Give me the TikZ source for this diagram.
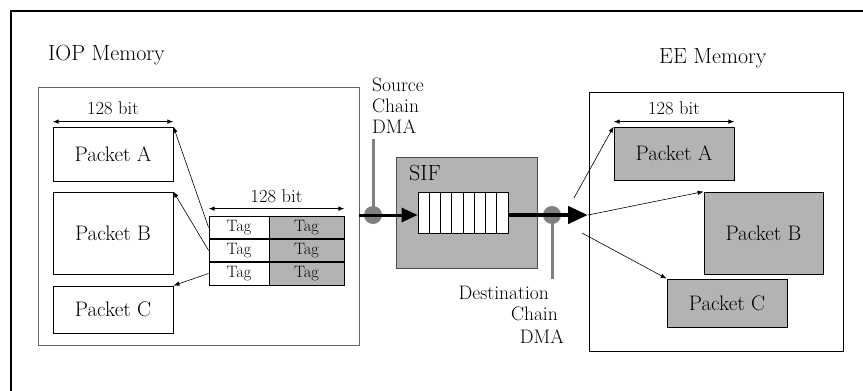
\documentclass[tikz,border=0pt]{standalone}
\usetikzlibrary{arrows.meta,shadows}
\definecolor{boxgray}{RGB}{179,179,179}
\definecolor{dotgray}{RGB}{128,128,128}
\begin{document}
\begin{tikzpicture}[x=1pt,y=-1pt,
  mem/.style={draw=#1,line width=0.8pt,rectangle,inner sep=0pt},
  packet/.style={draw=black,line width=0.8pt,rectangle,inner sep=0pt,minimum width=120pt,
    font=\fontsize{21}{24}\selectfont,
    drop shadow={shadow xshift=1.1pt,shadow yshift=-1.1pt,opacity=1,fill=black!55}},
  tagcell/.style={draw=black,line width=0.8pt,rectangle,inner sep=0pt,minimum height=23pt,
    font=\fontsize{16.5}{18}\selectfont},
  qcell/.style={draw=black,line width=0.8pt,fill=white,rectangle,inner sep=0pt,
    minimum width=11.25pt,minimum height=41pt},
  label/.style={inner sep=0pt,font=\fontsize{19.5}{21}\selectfont},
  title/.style={inner sep=0pt,font=\fontsize{22}{24}\selectfont},
  widthlbl/.style={inner sep=0pt,font=\fontsize{18.5}{20}\selectfont},
  thin arrow/.style={line width=0.6pt,-{Latex[length=6pt,width=4.5pt]}},
  span/.style={line width=0.8pt,{Latex[length=6pt,width=4.5pt]}-{Latex[length=6pt,width=4.5pt]}},
  dot/.style={circle,fill=dotgray,inner sep=0pt,minimum size=18pt},
  tap/.style={draw=dotgray,line width=3pt}]
\useasboundingbox (0,0) rectangle (863,391);

% outer frame (top and left edges)
\draw[line width=2pt] (11,391) -- (11,11) -- (863,11);

% ---------------- IOP side ----------------
\node[title,anchor=west] (ioplbl) at (48,55) {IOP Memory};
\node[mem=black!60,minimum width=321pt,minimum height=258pt] (iop) at (198.5,216) {};

\node[packet,fill=white,minimum height=54pt] (pa) at (113,154) {Packet A};
\node[packet,fill=white,minimum height=82pt] (pb) at (113,233) {Packet B};
\node[packet,fill=white,minimum height=47pt] (pc) at (113,309.5) {Packet C};

\draw[span] ([yshift=5pt]pa.north west) -- ([yshift=5pt]pa.north east)
  node[widthlbl,midway,above=6pt] (wa) {128 bit};

% tag table
\node[tagcell,fill=white,minimum width=60pt] (t1l) at (239,227.5) {Tag};
\node[tagcell,fill=boxgray,minimum width=75pt] (t1r) at (306.5,227.5) {Tag};
\node[tagcell,fill=white,minimum width=60pt] (t2l) at (239,250.5) {Tag};
\node[tagcell,fill=boxgray,minimum width=75pt] (t2r) at (306.5,250.5) {Tag};
\node[tagcell,fill=white,minimum width=60pt] (t3l) at (239,273.5) {Tag};
\node[tagcell,fill=boxgray,minimum width=75pt] (t3r) at (306.5,273.5) {Tag};
\draw[line width=1.8pt] (t2l.north west) -- (t2r.north east);
\draw[line width=1.8pt] (t3l.north west) -- (t3r.north east);

\draw[span] ([yshift=7pt]t1l.north west) -- ([yshift=7pt]t1r.north east)
  node[widthlbl,midway,above=5pt] (wt) {128 bit};

\draw[thin arrow] (t1l.west) -- (pa.north east);
\draw[thin arrow] (t2l.west) -- (pb.north east);
\draw[thin arrow] (t3l.west) -- (pc.north east);

% ---------------- SIF ----------------
\node[label,anchor=west,align=left] (srclbl) at (372,106) {Source\\Chain\\DMA};

\node[mem=black!70,fill=boxgray,minimum width=141pt,minimum height=111pt] (sif) at (466.5,212.5) {};
\node[title,anchor=west] (siflbl) at (409,173) {SIF};
\foreach \i in {1,...,8}
  \node[qcell] (q\i) at ({418+(\i-0.5)*11.25},212.5) {};

\node[dot] (srcdot) at (373,215) {};
\node[dot] (dstdot) at (552,215) {};
\coordinate (srctop) at (373,139);
\coordinate (dstbot) at (552,279);
\coordinate (hub) at (588,215);
\draw[tap] (srctop) -- (srcdot.center);
\draw[tap] (dstdot.center) -- (dstbot);

\draw[line width=3pt,-{Triangle[length=16pt,width=14pt]}] (iop.east |- srcdot) -- (q1.west |- srcdot);
\draw[line width=4.5pt,-{Triangle[length=20pt,width=17pt]}] (q8.east |- hub) -- (hub);

\node[label,anchor=east] (dst1) at (549,293) {Destination};
\node[label,anchor=east] (dst2) at (558,314) {Chain};
\node[label,anchor=east] (dst3) at (564,337) {DMA};

% ---------------- EE side ----------------
\node[title,anchor=west] (eelbl) at (659,58) {EE Memory};
\node[mem=black,minimum width=254pt,minimum height=259pt] (ee) at (716,221.5) {};

\node[packet,fill=boxgray,minimum height=53pt] (epa) at (674,153.5) {Packet A};
\node[packet,fill=boxgray,minimum width=119pt,minimum height=82pt] (epb) at (763.5,233) {Packet B};
\node[packet,fill=boxgray,minimum height=48pt] (epc) at (727,303) {Packet C};

\draw[span] ([yshift=5pt]epa.north west) -- ([yshift=5pt]epa.north east)
  node[widthlbl,midway,above=6pt] (we) {128 bit};

\coordinate (fa) at (574,198);
\coordinate (fc) at (582,233);
\draw[thin arrow] (fa) -- (epa.north west);
\draw[thin arrow] (hub) -- (epb.north west);
\draw[thin arrow] (fc) -- (epc.north west);
\end{tikzpicture}
\end{document}
